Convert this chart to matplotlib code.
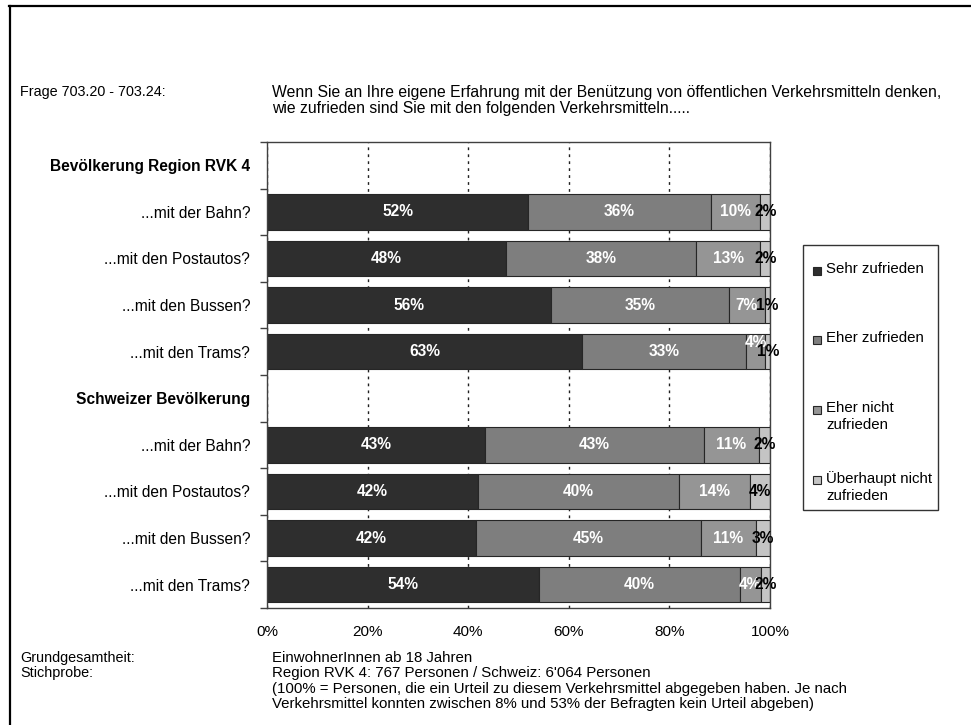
import numpy as np
import matplotlib.pyplot as plt
from matplotlib.patches import Rectangle
from matplotlib.lines import Line2D

plt.rcParams['font.family'] = ['Liberation Sans', 'DejaVu Sans']

# rows of the chart, group headers carry no bars
rows = ['Bevölkerung Region RVK 4', '...mit der Bahn?', '...mit den Postautos?',
        '...mit den Bussen?', '...mit den Trams?',
        'Schweizer Bevölkerung', '...mit der Bahn?', '...mit den Postautos?',
        '...mit den Bussen?', '...mit den Trams?']
header_rows = [0, 5]

series = ['Sehr zufrieden', 'Eher zufrieden', 'Eher nicht\nzufrieden',
          'Überhaupt nicht\nzufrieden']
colors = ['#2e2e2e', '#7e7e7e', '#959595', '#c4c4c4']
label_colors = ['white', 'white', 'white', 'black']

nan = np.nan
sehr = [nan, 51.9, 47.6, 56.4, 62.6, nan, 43.4, 41.9, 41.6, 54.0]
eher = [nan, 36.3, 37.7, 35.4, 32.6, nan, 43.4, 40.0, 44.6, 40.0]
eher_nicht = [nan, 9.9, 12.8, 7.2, 3.9, nan, 11.1, 14.1, 11.0, 4.2]
ueberhaupt = [nan, 1.9, 1.9, 1.0, 0.9, nan, 2.1, 4.0, 2.8, 1.8]
values = np.array([sehr, eher, eher_nicht, ueberhaupt])

xticks = [0, 20, 40, 60, 80, 100]

W, H = 971, 725
fig = plt.figure(figsize=(W / 100, H / 100), dpi=100)

# page frame (top and left edge)
fig.add_artist(Line2D([9 / W, 1], [1 - 6 / H, 1 - 6 / H], color='black', lw=1.6))
fig.add_artist(Line2D([10 / W, 10 / W], [1 - 6 / H, 0], color='black', lw=1.6))

fs = 11.2
fs_txt = 10.8
narrow = ['Liberation Sans Narrow', 'Liberation Sans', 'DejaVu Sans']

fig.text(20 / W, 1 - 92 / H, 'Frage 703.20 - 703.24:', fontsize=fs_txt - 0.4, va='center')
fig.text(272 / W, 1 - 92 / H,
         'Wenn Sie an Ihre eigene Erfahrung mit der Benützung von öffentlichen Verkehrsmitteln denken,',
         fontsize=11.3, va='center')
fig.text(272 / W, 1 - 108 / H,
         'wie zufrieden sind Sie mit den folgenden Verkehrsmitteln.....',
         fontsize=11.3, va='center')

ax = fig.add_axes([267 / W, 117 / H, 503 / W, 466 / H])
y = np.arange(len(rows))
left = np.zeros(len(rows))
for i, (vals, c) in enumerate(zip(values, colors)):
    ax.barh(y, vals, left=left, height=0.76, color=c, edgecolor='#262626',
            linewidth=0.8, label=series[i], zorder=2)
    for r in range(len(rows)):
        v = vals[r]
        if np.isnan(v):
            continue
        dy = 0
        if r == 4 and i == 2:
            dy = -0.2
        ax.text(left[r] + v / 2, y[r] + dy, f'{v:.0f}%', ha='center', va='center',
                color=label_colors[i], fontsize=fs, fontweight='bold', zorder=3)
    left = left + np.nan_to_num(vals)

ax.set_xlim(0, 100)
ax.set_ylim(len(rows) - 0.5, -0.5)
ax.set_xticks(xticks)
ax.set_xticklabels([f'{t}%' for t in xticks], fontsize=fs - 0.2)
ax.set_yticks(y)
ax.set_yticklabels(rows, fontsize=fs)
for r in header_rows:
    ax.get_yticklabels()[r].set_fontweight('bold')
ax.set_yticks(np.arange(-0.5, len(rows)), minor=True)
ax.tick_params(axis='y', which='major', length=0, pad=12)
ax.tick_params(axis='y', which='minor', length=5, width=1, color='#404040')
ax.tick_params(axis='x', length=0, pad=12)
ax.grid(axis='x', linestyle=(0, (2, 3)), color='#202020', lw=1, zorder=1)
ax.set_axisbelow(True)
for s in ax.spines.values():
    s.set_color('#404040')
    s.set_linewidth(1)

# legend box
fig.add_artist(Rectangle((803 / W, 1 - 510 / H), 135 / W, 265 / H, transform=fig.transFigure,
                         facecolor='white', edgecolor='#333333', lw=1))
leg_y = [271, 340, 410, 480]
for c, lab, ly in zip(colors, series, leg_y):
    fig.add_artist(Rectangle((813 / W, 1 - (ly + 4) / H), 8 / W, 8 / H,
                             transform=fig.transFigure, facecolor=c,
                             edgecolor='#262626', lw=0.8))
    fig.text(826 / W, 1 - (ly - 9) / H, lab, fontsize=fs_txt, va='top', linespacing=1.3)

# sample description
foot = [(658, 'Grundgesamtheit:', 'EinwohnerInnen ab 18 Jahren'),
        (673, 'Stichprobe:', 'Region RVK 4: 767 Personen / Schweiz: 6\'064 Personen'),
        (689, '', '(100% = Personen, die ein Urteil zu diesem Verkehrsmittel abgegeben haben. Je nach'),
        (704, '', 'Verkehrsmittel konnten zwischen 8% und 53% der Befragten kein Urteil abgeben)')]
for fy, a, b in foot:
    fig.text(20 / W, 1 - fy / H, a, fontsize=10.4, family=narrow, va='center')
    fig.text(272 / W, 1 - fy / H, b, fontsize=fs_txt, va='center')

fig.savefig('out.png', dpi=100)
